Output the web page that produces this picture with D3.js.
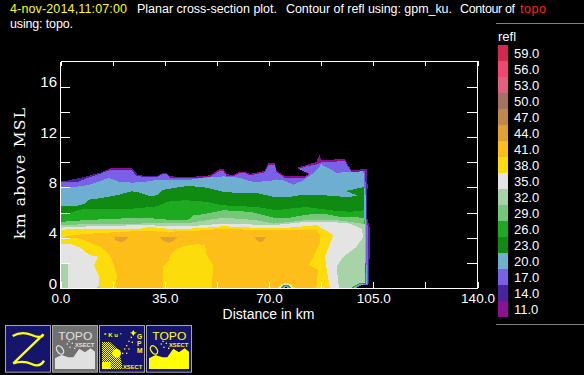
<!DOCTYPE html>
<html><head><meta charset="utf-8">
<script src="https://cdn.jsdelivr.net/npm/d3@7"></script>
<style>
html,body{margin:0;padding:0;background:#000;overflow:hidden}
svg{display:block}
text{font-family:"Liberation Sans",Arial,sans-serif;fill:#fff}
</style></head><body><svg id="c" width="584" height="375"></svg>
<script>
const legendLevels = [59,56,53,50,47,44,41,38,35,32,29,26,23,20,17,14,11];
const legendColors = ["#d2274f","#f2456f","#e0607e","#a87060","#c08848","#e0a032","#fdbe1a","#fcdc0a","#e4e4e4","#a6d4a8","#74c878","#1eaa20","#108a10","#6eaed0","#7a60e6","#4b22a0","#8c1090"];
const xTickValues = [0,17.5,35,52.5,70,87.5,105,122.5,140];
const xLabelValues = [0,35,70,105,140];
const yTickValues = [0,2,4,6,8,10,12,14,16];
const yLabelValues = [0,4,8,12,16];

// boundaries of reflectivity regions: [distance km, height km]
const refl11 = [[0,8.47],[6,8.55],[9.9,8.95],[13.3,9.16],[16.6,9.5],[23.9,9.55],[26.1,8.95],[32.3,8.9],[34.5,9.16],[35.6,9.16],[36.8,8.87],[43.5,8.82],[50.2,8.95],[53.5,9.47],[54.7,9.47],[55.8,9.03],[58,9],[60.3,9.24],[61.9,9.24],[63.6,9.06],[68.6,9.3],[69.8,9.93],[72,9.93],[72.5,9.35],[75.3,8.87],[82,8.87],[83.4,9.08],[79.2,9.55],[82,9.74],[85.9,10.01],[87,10.58],[87.6,10.14],[95.5,10.27],[96.6,9.74],[97.7,9.35],[102.8,9.47],[103.1,8.16],[102.9,5.65],[103.9,4.72],[103.6,0],[0,0]];
const refl14 = [[0,8.42],[13.3,9.1],[16.6,9.42],[24.4,9.45],[26,8.88],[33.5,8.86],[34.5,9.13],[35.6,9.13],[36.8,8.81],[97.7,8.81],[98,9.3],[102.6,9.38],[102.9,8.12],[102.8,5.64],[103.6,4.75],[103.5,0],[0,0]];
const refl17 = [[0,8.44],[6,8.44],[9.9,8.82],[13.3,9.08],[16.6,9.38],[23.9,9.38],[25.5,8.87],[32.3,8.82],[34.5,9.08],[35.6,9.08],[36.8,8.76],[43.5,8.71],[50.2,8.82],[53.5,9.3],[54.7,9.3],[55.8,8.87],[58,8.87],[60.3,9.14],[61.9,9.14],[63.6,8.95],[68.6,9.19],[69.8,9.77],[72,9.77],[72.5,9.22],[75.3,8.76],[82,8.76],[83.7,9.08],[79.8,9.47],[82,9.63],[85.9,9.82],[87.6,9.98],[95.5,10.09],[96.6,9.61],[97.7,9.22],[102.2,9.29],[102.5,8.03],[102.5,5.65],[103.3,4.8],[103.2,0],[0,0]];
const refl20 = [[0,7.97],[4.9,8.03],[9.9,8.21],[13.3,8.5],[16.1,8.74],[20,8.42],[24.4,8.37],[28.9,8.45],[32.3,8.6],[43.5,8.6],[47.9,8.76],[54.7,8.87],[60.3,8.76],[64.7,8.42],[70.3,8.5],[72.5,8.63],[74.8,8.55],[78.2,8.21],[81.5,8.55],[85.4,9.22],[87.6,9.82],[92.7,9.16],[101.7,9.27],[101.9,8.29],[102.4,7.37],[102.4,5.65],[102.9,0],[0,0]];
const refl23 = [[0,6.49],[4.9,6.49],[8.2,6.7],[9.3,7.02],[13.3,7.13],[18.9,7.37],[23.9,7.68],[26.7,7.57],[30,7.29],[32.3,7.37],[34.5,7.81],[40.1,8.03],[43.5,8.11],[49.1,7.97],[54.7,7.63],[60.3,7.55],[65.9,7.55],[71.5,7.24],[77,7.24],[80.4,7.37],[88.2,7.37],[95.5,7.24],[99.4,7.29],[99.4,7.37],[95.8,7.71],[102,8.03],[102,6.05],[102.6,0],[0,0]];
const refl26 = [[0,5.91],[3.2,5.97],[7.7,6.31],[13.3,6.31],[24.4,6.31],[32.3,6.49],[36.8,6.92],[42.4,6.97],[49.1,6.84],[54.7,6.57],[65.9,6.44],[72.5,6.18],[77,6.31],[82.6,6.44],[90.5,6.18],[97.2,6.05],[102,6.18],[102.5,0],[0,0]];
const refl29 = [[0,5.26],[3.7,5.31],[7.7,5.39],[18.9,5.51],[27.8,5.59],[35.6,5.44],[42.9,5.44],[44.6,5.78],[47.9,5.86],[54.7,6.18],[63.6,6.05],[71.5,5.59],[77,5.59],[82.6,5.83],[88.2,5.91],[93.8,5.65],[102,5.59],[102.2,0],[0,0]];
const refl32 = [[0,4.99],[13.3,5.12],[26.7,5.12],[35.6,5.18],[43.5,5.18],[49.1,5.39],[54.7,5.59],[65.9,5.39],[71.5,5.12],[82.6,5.39],[90.5,5.44],[97.2,5.26],[102.2,5.07],[102.2,0],[0,0]];
const refl35 = [[0,4.8],[11,4.91],[26.7,4.99],[43.5,4.91],[54.7,5.12],[71.5,4.99],[82.6,5.26],[90.5,5.26],[97.2,5.12],[101.1,4.72],[101.7,4.07],[99.4,3.28],[94.9,2.48],[92.7,1.69],[93.5,0],[0,0]];
const refl32Left = [[0,1.95],[2.6,1.9],[2.6,0],[0,0]];
const refl32Low = [[12.1,0],[12.6,0.14],[13.3,0.18],[13.4,0]];
const refl38 = [[0,4.59],[2.6,4.67],[26.7,4.72],[30,4.86],[35.6,4.72],[43.5,4.72],[49.1,4.8],[54.7,4.91],[65.9,4.78],[77,4.8],[85.9,4.99],[89.9,4.46],[91.6,4.2],[90.5,3.53],[88.8,2.48],[89.4,1.43],[90.5,0],[13,0],[12.8,1.03],[11.2,1.82],[12.7,2.48],[9.9,2.61],[6.5,3.22],[3.7,3.48],[0,3.53]];
const refl41 = [[0,3.99],[3.7,4.2],[11,4.33],[26.7,4.54],[35.6,4.46],[43.5,4.54],[49.1,4.59],[54.7,4.72],[65.9,4.59],[77,4.59],[85.9,4.64],[87.2,4.2],[87,3.53],[84.8,2.48],[83.5,1.82],[86.5,1.43],[85.9,0],[50.7,0],[51.3,1.82],[49.1,2.61],[48.5,3.41],[46.2,3.48],[43.5,3.41],[39,3.14],[36.8,2.61],[36.2,2.09],[34.5,1.69],[34.5,0],[18.6,0],[18.9,1.03],[17.7,1.95],[16.6,2.61],[13.3,3.28],[6.5,3.93]];
const refl44a = [[17.7,4.07],[22.8,4.07],[22,3.8],[20.5,3.64],[18.8,3.75]];
const refl44b = [[33.2,4.01],[39.6,4.09],[37.9,3.75],[36.2,3.59],[34.5,3.75]];
const refl44c = [[65.3,4.07],[69,4.01],[68.1,3.75],[67,3.64],[65.9,3.8]];
// echoes around the small terrain humps
const hump1Yellow = [[72.9,0],[74,0.28],[75.5,0.38],[77.5,0.34],[79,0]];
const hump1Grey = [[73.2,0],[74.2,0.25],[75.5,0.33],[77,0.28],[78,0]];
const hump1Green = [[73.8,0],[74.7,0.2],[75.6,0.28],[76.6,0.22],[77.4,0]];
const hump1Blue = [[74.4,0],[75,0.14],[75.6,0.2],[76.2,0.14],[76.8,0]];
const hump1Ground = [[75,0],[75.6,0.1],[76.2,0]];
const hump2Green = [[97.6,0],[98.8,0.2],[100.4,0.36],[102.5,0.42],[102.5,0]];
const hump2Blue = [[98.2,0],[99.2,0.16],[100.6,0.3],[103,0.37],[103,0]];
const hump2Purple = [[98.8,0],[99.6,0.12],[100.8,0.25],[103.3,0.33],[103.3,0]];
const hump2Ground = [[99.4,0],[100,0.08],[101,0.2],[104,0.3],[104,0]];

const refl = {11:refl11,14:refl14,17:refl17,20:refl20,23:refl23,26:refl26,29:refl29,32:refl32,35:refl35,38:refl38,41:refl41};

const svg = d3.select("#c");
const color = d3.scaleOrdinal(legendLevels, legendColors);
const x = d3.scaleLinear().domain([0,140]).range([60.5,477.5]);
const y = d3.scaleLinear().domain([0,18]).range([288,61.5]);
const line = d3.line().x(d=>x(d[0])).y(d=>y(d[1])).curve(d3.curveLinear);

const plot = svg.append("g").attr("shape-rendering","crispEdges");
const shapes = [11,14,17,20,23,26,29,32,35,38,41].map(l=>({c:color(l),p:refl[l]}));
shapes.push({c:color(32),p:refl32Left},{c:color(32),p:refl32Low});
[refl44a,refl44b,refl44c].forEach(p=>shapes.push({c:color(44),p}));
[[hump1Yellow,38],[hump1Grey,35],[hump1Green,26],[hump1Blue,20]].forEach(([p,l])=>shapes.push({c:color(l),p}));
shapes.push({c:"#000",p:hump1Ground});
[[hump2Green,26],[hump2Blue,20],[hump2Purple,17]].forEach(([p,l])=>shapes.push({c:color(l),p}));
shapes.push({c:"#000",p:hump2Ground});
plot.selectAll("path").data(shapes).join("path")
  .attr("d",d=>line(d.p)+"Z").attr("fill",d=>d.c);

function styleAxis(g,fs){
  g.select(".domain").attr("stroke","#fff").attr("stroke-width",1);
  g.selectAll(".tick line").attr("stroke","#fff").attr("stroke-width",1);
  g.selectAll("text").attr("fill","#fff").style("font-size",fs+"px").style("font-family",'"Liberation Sans",Arial,sans-serif');
  g.attr("shape-rendering","crispEdges");
}
const xFmt = d=>xLabelValues.includes(d)?d3.format(".1f")(d):"";
const yFmt = d=>yLabelValues.includes(d)?String(d):"";
const gB = svg.append("g").attr("transform","translate(0,288)")
  .call(d3.axisBottom(x).tickValues(xTickValues).tickSize(-6).tickSizeOuter(0).tickPadding(5).tickFormat(xFmt));
gB.selectAll("text").attr("y",15).attr("dy",0);
styleAxis(gB,13.5);
const gT = svg.append("g").attr("transform","translate(0,61)")
  .call(d3.axisTop(x).tickValues(xTickValues).tickSize(-5).tickSizeOuter(0).tickFormat(""));
styleAxis(gT,13);
const gL = svg.append("g").attr("transform","translate(60,0)")
  .call(d3.axisLeft(y).tickValues(yTickValues).tickSize(-10).tickSizeOuter(0).tickPadding(3).tickFormat(yFmt));
gL.selectAll("text").attr("dy",0).attr("y",0).attr("x",-3);
styleAxis(gL,15);
const gR = svg.append("g").attr("transform","translate(477,0)")
  .call(d3.axisRight(y).tickValues(yTickValues).tickSize(-10).tickSizeOuter(0).tickFormat(""));
styleAxis(gR,13);

svg.append("text").attr("x",268.5).attr("y",319).attr("text-anchor","middle").style("font-size","14px").text("Distance in km");
svg.append("text").attr("transform","translate(25,173.5) rotate(-90)").attr("text-anchor","middle")
  .attr("textLength",131).attr("lengthAdjust","spacing")
  .style("font-family",'"DejaVu Serif",serif').style("font-size","15.5px").text("km above MSL");

// title
const titleParts = [
 ["4-nov-2014,11:07:00",10,13,"#ffff00",117],
 ["Planar cross-section plot.",137,13,"#fff",140],
 ["Contour of refl using: gpm_ku.",286,13,"#fff",166],
 ["Contour of",460,13,"#fff",55],
 ["topo",520,13,"#ff2020",26],
 ["using: topo.",10,28,"#fff",63]];
svg.selectAll("text.t").data(titleParts).join("text").attr("class","t")
 .attr("x",d=>d[1]).attr("y",d=>d[2]).attr("textLength",d=>d[4]).attr("lengthAdjust","spacing")
 .style("font-size","12.5px").style("fill",d=>d[3]).text(d=>d[0]);

// legend
const ly = d3.scaleBand().domain(legendLevels).range([45,317]);
svg.append("line").attr("x1",496).attr("x2",584).attr("y1",23.5).attr("y2",23.5).attr("stroke","#808080");
svg.append("line").attr("x1",496).attr("x2",584).attr("y1",324.5).attr("y2",324.5).attr("stroke","#808080");
svg.append("text").attr("x",498).attr("y",41).style("font-size","13px").text("refl");
svg.append("g").attr("shape-rendering","crispEdges").selectAll("rect").data(legendLevels).join("rect")
 .attr("x",498).attr("width",10).attr("y",d=>ly(d)).attr("height",ly.bandwidth()).attr("fill",d=>color(d));
svg.append("g").selectAll("text").data(legendLevels).join("text")
 .attr("x",514).attr("y",d=>ly(d)+ly.bandwidth()/2+5).style("font-size","13px").text(d=>d3.format(".1f")(d));

// icon buttons (drawn in a 3x grid)
const ic = svg.append("g").attr("transform","translate(0,300) scale(0.3333)");
const yel="#ffff00", navy="#15156e";
[[15,navy],[156,"#707070"],[297,navy],[438,navy]].forEach(([ix,f])=>{
  ic.append("rect").attr("x",ix+1.5).attr("y",76.5).attr("width",135).attr("height",140).attr("fill",f).attr("stroke","#a8a8a8").attr("stroke-width",3);
});
ic.append("path").attr("d","M38 108Q65 92 95 105T130 103L40 190Q70 180 95 192T132 182").attr("fill","none").attr("stroke",yel).attr("stroke-width",7);
function topo(dx,c){
  const g=ic.append("g").attr("transform",`translate(${dx},0)`);
  g.append("text").attr("x",175).attr("y",119).attr("textLength",102).attr("lengthAdjust","spacingAndGlyphs").style("font-size","32px").style("fill",c).text("TOPO");
  g.append("text").attr("x",225).attr("y",142).attr("textLength",58).attr("lengthAdjust","spacingAndGlyphs").style("font-size","15px").style("font-weight","bold").style("fill",c).text("XSECT");
  g.append("path").attr("d","M165 207V175L185 165L205 172L220 172L238 146L255 157L272 145L285 155V207Z").attr("fill",c);
  g.append("ellipse").attr("cx",180).attr("cy",150).attr("rx",9).attr("ry",14).attr("transform","rotate(-35 180 150)").attr("fill",c==yel?navy:"#707070").attr("stroke",c).attr("stroke-width",4);
  [[200,130],[208,140],[215,128],[222,143],[205,122]].forEach(p=>g.append("rect").attr("x",p[0]).attr("y",p[1]).attr("width",4).attr("height",4).attr("fill",c));
}
topo(0,"#e0e0e0"); topo(282,yel);
const defs=svg.append("defs");
const pat=defs.append("pattern").attr("id","dith").attr("width",6).attr("height",6).attr("patternUnits","userSpaceOnUse");
pat.append("rect").attr("width",3).attr("height",3).attr("fill",yel);
pat.append("rect").attr("x",3).attr("y",3).attr("width",3).attr("height",3).attr("fill",yel);
ic.append("path").attr("d","M306 126L330 126L350 145L362 175L368 207H306Z").attr("fill","url(#dith)");
ic.append("circle").attr("cx",350).attr("cy",160).attr("r",13).attr("fill",yel);
ic.append("rect").attr("x",306).attr("y",186).attr("width",26).attr("height",21).attr("fill",yel);
ic.append("text").attr("x",312).attr("y",110).attr("textLength",52).style("font-size","18px").style("font-weight","bold").style("fill",yel).text("*Ku'");
ic.append("text").attr("x",369).attr("y",206).attr("textLength",58).attr("lengthAdjust","spacingAndGlyphs").style("font-size","17px").style("font-weight","bold").style("fill",yel).text("XSECT");
["G","P","M"].forEach((s,i)=>ic.append("text").attr("x",411).attr("y",117+i*21).style("font-size","20px").style("font-weight","bold").style("fill",yel).text(s));
ic.append("path").attr("d","M400 90L404 97L411 98L404 101L400 108L396 101L390 98L396 97Z").attr("fill",yel);
[[392,110],[385,122],[378,135],[372,145],[366,158],[395,125],[385,145],[378,158]].forEach(p=>ic.append("rect").attr("x",p[0]).attr("y",p[1]).attr("width",4).attr("height",4).attr("fill",yel));
</script></body></html>
